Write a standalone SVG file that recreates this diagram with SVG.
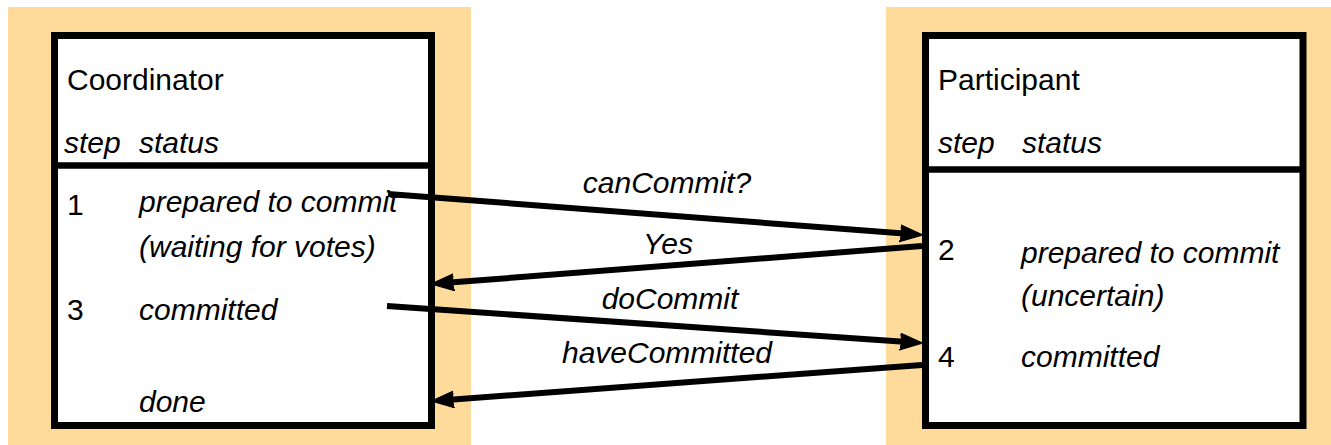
<svg xmlns="http://www.w3.org/2000/svg" width="1331" height="445" viewBox="0 0 1331 445">
<style>
.bg{fill:#FFDB9B}
.box{fill:#fff;stroke:#000;stroke-width:7}
.div{stroke:#000;stroke-width:6.5}
.t{font-family:"Liberation Sans",Arial,sans-serif;font-size:30px;fill:#000}
.i{font-style:italic}
.c{text-anchor:middle}
.ln{stroke:#000;stroke-width:6;fill:none;marker-end:url(#ah)}
</style>
<defs>
<marker id="ah" markerUnits="userSpaceOnUse" markerWidth="26" markerHeight="20" refX="4" refY="9" orient="auto">
<path d="M0,0.5 L23,9 L0,17.5 L2,9 Z" fill="#000" stroke="#000" stroke-width="1" stroke-linejoin="round"/>
</marker>
</defs>
<rect class="bg" x="8" y="7" width="463" height="438"/>
<rect class="bg" x="886" y="7" width="445" height="438"/>
<g id="coordinator">
<rect class="box" x="54.5" y="35.5" width="377" height="390"/>
<line class="div" x1="54.5" y1="165.5" x2="431.5" y2="165.5"/>
<text class="t" x="67" y="90">Coordinator</text>
<text class="t i" x="64" y="153">step</text>
<text class="t i" x="139" y="153">status</text>
<text class="t" x="67" y="215">1</text>
<text class="t i" x="139" y="212">prepared to commit</text>
<text class="t i" x="139" y="257">(waiting for votes)</text>
<text class="t" x="67" y="320">3</text>
<text class="t i" x="139" y="320">committed</text>
<text class="t i" x="139" y="412">done</text>
</g>
<g id="participant">
<rect class="box" x="925.5" y="35.5" width="377.5" height="390"/>
<line class="div" x1="925.5" y1="169.5" x2="1303" y2="169.5"/>
<text class="t" x="938" y="90">Participant</text>
<text class="t i" x="938" y="153">step</text>
<text class="t i" x="1022" y="153">status</text>
<text class="t" x="938" y="260">2</text>
<text class="t i" x="1021" y="263">prepared to commit</text>
<text class="t i" x="1021" y="306">(uncertain)</text>
<text class="t" x="938" y="367">4</text>
<text class="t i" x="1021" y="367">committed</text>
</g>
<g id="connectors">
<line class="ln" x1="388" y1="194" x2="904" y2="233.6"/>
<line class="ln" x1="922" y1="246" x2="450" y2="282.6"/>
<line class="ln" x1="387" y1="306" x2="904" y2="341.8"/>
<line class="ln" x1="922" y1="365" x2="450" y2="399.7"/>
<text class="t i c" x="667" y="193">canCommit?</text>
<text class="t i c" x="668" y="254">Yes</text>
<text class="t i c" x="670" y="309">doCommit</text>
<text class="t i c" x="667" y="363">haveCommitted</text>
</g>
</svg>
